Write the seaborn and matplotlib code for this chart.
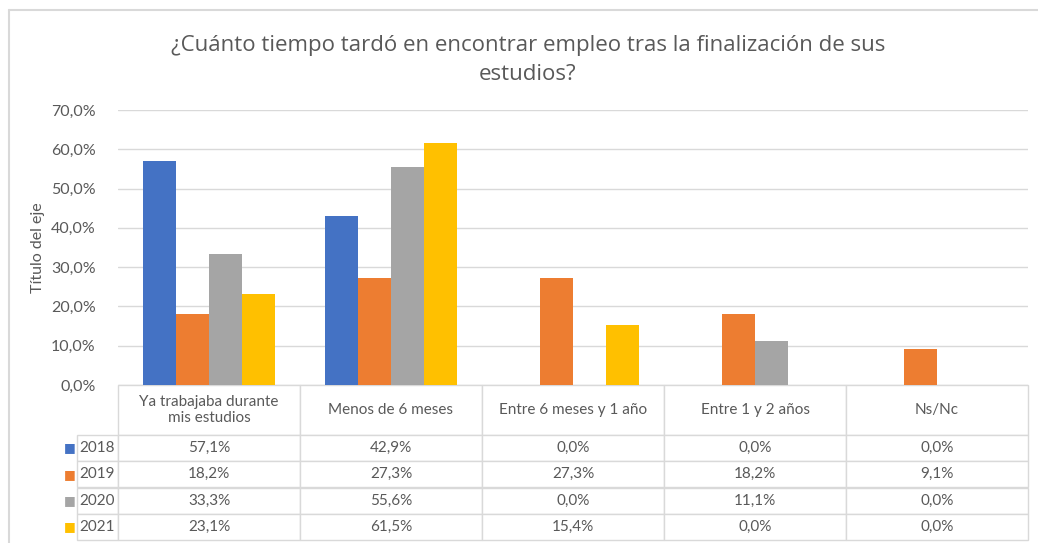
import pandas as pd
import seaborn as sns
import matplotlib.pyplot as plt
from matplotlib.ticker import FuncFormatter

categories = ["Ya trabajaba durante\nmis estudios", "Menos de 6 meses",
              "Entre 6 meses y 1 año", "Entre 1 y 2 años", "Ns/Nc"]
years = ["2018", "2019", "2020", "2021"]
v2018 = [57.1, 42.9, 0.0, 0.0, 0.0]
v2019 = [18.2, 27.3, 27.3, 18.2, 9.1]
v2020 = [33.3, 55.6, 0.0, 11.1, 0.0]
v2021 = [23.1, 61.5, 15.4, 0.0, 0.0]
colors = ["#4472C4", "#ED7D31", "#A5A5A5", "#FFC000"]

series = [v2018, v2019, v2020, v2021]
rows = []
for y, vals in zip(years, series):
    for c, v in zip(categories, vals):
        rows.append({"cat": c, "year": y, "value": v})
df = pd.DataFrame(rows)

sns.set_style("white")
plt.rcParams["font.family"] = ["Lato", "DejaVu Sans"]
txt = "#595959"
grid = "#d9d9d9"

fig = plt.figure(figsize=(10.38, 5.43), dpi=100)
ax = fig.add_axes([118/1038, 1-385/543, 910/1038, 275/543])

sns.barplot(data=df, x="cat", y="value", hue="year", order=categories,
            hue_order=years, palette=colors, width=0.73, gap=0,
            saturation=1, legend=False, linewidth=0, ax=ax)

ax.set_ylim(0, 70)
ax.set_yticks(range(0, 71, 10))
ax.yaxis.set_major_formatter(FuncFormatter(lambda v, p: f"{v:.1f}%".replace(".", ",")))
ax.tick_params(axis="y", length=0, labelsize=11.5, labelcolor=txt, pad=16)
ax.set_xticks([])
ax.set_xlabel("")
ax.set_ylabel("Título del eje", fontsize=11.5, color=txt)
ax.yaxis.set_label_coords(-73/910, 0.5)
ax.grid(axis="y", color=grid, lw=1)
ax.set_axisbelow(True)
for s in ax.spines.values():
    s.set_visible(False)

# data table under the plot, row labels hang left of the axes
cell_text = [[f"{v:.1f}%".replace(".", ",") for v in vals] for vals in series]
tbl = ax.table(cellText=cell_text, rowLabels=years, colLabels=categories,
               cellLoc="center", rowLoc="right", loc="bottom")
tbl.AXESPAD = 0
tbl.auto_set_font_size(False)
for (r, c), cell in tbl.get_celld().items():
    cell.set_edgecolor(grid)
    cell.set_linewidth(1)
    cell.get_text().set_color(txt)
    cell.get_text().set_fontsize(11)
    cell.set_height((50 if r == 0 else 26.25) / 275)
    cell.set_width((58 if c == -1 else 182) / 910)
    if c == -1:
        cell.PAD = 0.08

# colored squares next to the year labels
for i, col in enumerate(colors):
    y = -(50 + 26.25 * i + 13) / 275
    ax.text(-54/910, y, "■", color=col, fontsize=9, va="center", ha="left",
            transform=ax.transAxes, family="DejaVu Sans")

fig.text(528/1038, 1-46/543, "¿Cuánto tiempo tardó en encontrar empleo tras la finalización de sus",
         ha="center", va="center", fontsize=16, color=txt, family="Open Sans")
fig.text(528/1038, 1-74/543, "estudios?", ha="center", va="center",
         fontsize=16, color=txt, family="Open Sans")

# chart border
fig.add_artist(plt.Line2D([9/1038, 9/1038], [0, 1-10/543], color=grid, lw=1.5,
                          transform=fig.transFigure))
fig.add_artist(plt.Line2D([9/1038, 1], [1-10/543, 1-10/543], color=grid, lw=1.5,
                          transform=fig.transFigure))

fig.savefig("out.png", dpi=100)
